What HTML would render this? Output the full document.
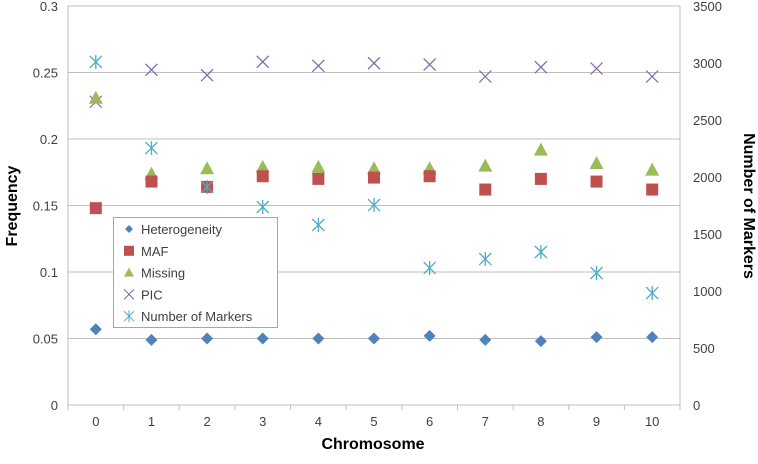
<!DOCTYPE html>
<html><head><meta charset="utf-8"><style>
body{margin:0;background:#fff;font-family:"Liberation Sans",sans-serif}
svg text{font-family:"Liberation Sans",sans-serif}
</style></head><body>
<svg id="c" width="758" height="459"></svg>
<script>
const categories=[0,1,2,3,4,5,6,7,8,9,10];
const heterogeneity=[0.057,0.049,0.050,0.050,0.050,0.050,0.052,0.049,0.048,0.051,0.051];
const maf=[0.148,0.168,0.164,0.172,0.170,0.171,0.172,0.162,0.170,0.168,0.162];
const missing=[0.231,0.174,0.178,0.179,0.179,0.178,0.178,0.180,0.192,0.182,0.177];
const pic=[0.228,0.252,0.248,0.258,0.255,0.257,0.256,0.247,0.254,0.253,0.247];
const markers=[3009,2254,1912,1737,1579,1754,1202,1281,1342,1158,982];
const leftTicks=[0,0.05,0.1,0.15,0.2,0.25,0.3];
const rightTicks=[0,500,1000,1500,2000,2500,3000,3500];
const NS='http://www.w3.org/2000/svg';
const svg=document.getElementById('c');
const L=68,R=680,T=6,B=405;
const x=i=>L+(i+0.5)*(R-L)/categories.length;
const yL=v=>B-v/0.3*(B-T);
const yR=v=>B-v/3500*(B-T);
function el(tag,attrs,parent){const e=document.createElementNS(NS,tag);for(const k in attrs)e.setAttribute(k,attrs[k]);(parent||svg).appendChild(e);return e;}
leftTicks.forEach(t=>{
 const g=el('line',{x1:L,x2:R,y1:yL(t),y2:yL(t),stroke:'#bfbfbf','stroke-width':1});
 
 
 const tx=el('text',{x:L-10,y:yL(t)+5,'text-anchor':'end','font-size':13,fill:'#404040'});
 tx.textContent=String(t);
 
 
});
rightTicks.forEach(t=>{
 const tx=el('text',{x:R+13,y:yR(t)+5,'text-anchor':'start','font-size':13,fill:'#404040'});
 tx.textContent=String(t);
 
 
});
el('line',{x1:L,x2:L,y1:T,y2:B,stroke:'#bfbfbf'});
el('line',{x1:R,x2:R,y1:T,y2:B,stroke:'#bfbfbf'});
categories.forEach((c,i)=>{
 el('line',{x1:L+i*(R-L)/11,x2:L+i*(R-L)/11,y1:B,y2:B+5,stroke:'#bfbfbf'});
 const tx=el('text',{x:x(i),y:B+21,'text-anchor':'middle','font-size':13,fill:'#404040'});
 tx.textContent=String(c);
 
 
});
el('line',{x1:R,x2:R,y1:B,y2:B+5,stroke:'#bfbfbf'});
function diamond(cx,cy,p){return el('polygon',{points:`${cx},${cy-6} ${cx+6},${cy} ${cx},${cy+6} ${cx-6},${cy}`,fill:'#4f81bd'},p);}
function square(cx,cy,p){return el('rect',{x:cx-6,y:cy-6,width:12,height:12,fill:'#c0504d'},p);}
function tri(cx,cy,p){return el('polygon',{points:`${cx},${cy-7} ${cx+7},${cy+6} ${cx-7},${cy+6}`,fill:'#9bbb59'},p);}
function cross(cx,cy,p){const g=el('g',{stroke:'#8064a2','stroke-width':1.2},p);el('line',{x1:cx-6,y1:cy-6,x2:cx+6,y2:cy+6},g);el('line',{x1:cx-6,y1:cy+6,x2:cx+6,y2:cy-6},g);return g;}
function star(cx,cy,p){const g=el('g',{stroke:'#4bacc6','stroke-width':1.3},p);el('line',{x1:cx-6,y1:cy-6,x2:cx+6,y2:cy+6},g);el('line',{x1:cx-6,y1:cy+6,x2:cx+6,y2:cy-6},g);el('line',{x1:cx,y1:cy-7,x2:cx,y2:cy+7},g);return g;}
categories.forEach((c,i)=>{
 let m;
 m=cross(x(i),yL(pic[i]));
 m=tri(x(i),yL(missing[i]));
 m=square(x(i),yL(maf[i]));
 m=diamond(x(i),yL(heterogeneity[i]));
 m=star(x(i),yR(markers[i]));
});
// legend
const lg=el('g',{});


el('rect',{x:113.5,y:217.5,width:164,height:110,fill:'#fff',stroke:'#a6a6a6'},lg);
const names=['Heterogeneity','MAF','Missing','PIC','Number of Markers'];
const fns=[(a,b,p)=>el('polygon',{points:`${a},${b-4} ${a+4},${b} ${a},${b+4} ${a-4},${b}`,fill:'#4f81bd'},p),
 (a,b,p)=>el('rect',{x:a-5,y:b-5,width:10,height:10,fill:'#c0504d'},p),
 (a,b,p)=>el('polygon',{points:`${a},${b-5} ${a+5},${b+4} ${a-5},${b+4}`,fill:'#9bbb59'},p),
 (a,b,p)=>{const g=el('g',{stroke:'#8064a2'},p);el('line',{x1:a-5,y1:b-5,x2:a+5,y2:b+5},g);el('line',{x1:a-5,y1:b+5,x2:a+5,y2:b-5},g);},
 (a,b,p)=>{const g=el('g',{stroke:'#4bacc6'},p);el('line',{x1:a-5,y1:b-5,x2:a+5,y2:b+5},g);el('line',{x1:a-5,y1:b+5,x2:a+5,y2:b-5},g);el('line',{x1:a,y1:b-6,x2:a,y2:b+6},g);}];
names.forEach((n,k)=>{
 const e=el('g',{},lg);
 
 
 const yy=229+k*21.8;
 fns[k](129,yy,e);
 const t=el('text',{x:141,y:yy+5,'font-size':13,fill:'#404040'},e);t.textContent=n;
});
let t=el('text',{x:373,y:449,'text-anchor':'middle','font-size':16,'font-weight':'bold',fill:'#000'});t.textContent='Chromosome';

t=el('text',{x:0,y:0,'text-anchor':'middle','font-size':16,'font-weight':'bold',fill:'#000',transform:'translate(17,206) rotate(-90)'});t.textContent='Frequency';

t=el('text',{x:0,y:0,'text-anchor':'middle','font-size':16,'font-weight':'bold',fill:'#000',transform:'translate(744,206) rotate(90)'});t.textContent='Number of Markers';

</script>
</body></html>
